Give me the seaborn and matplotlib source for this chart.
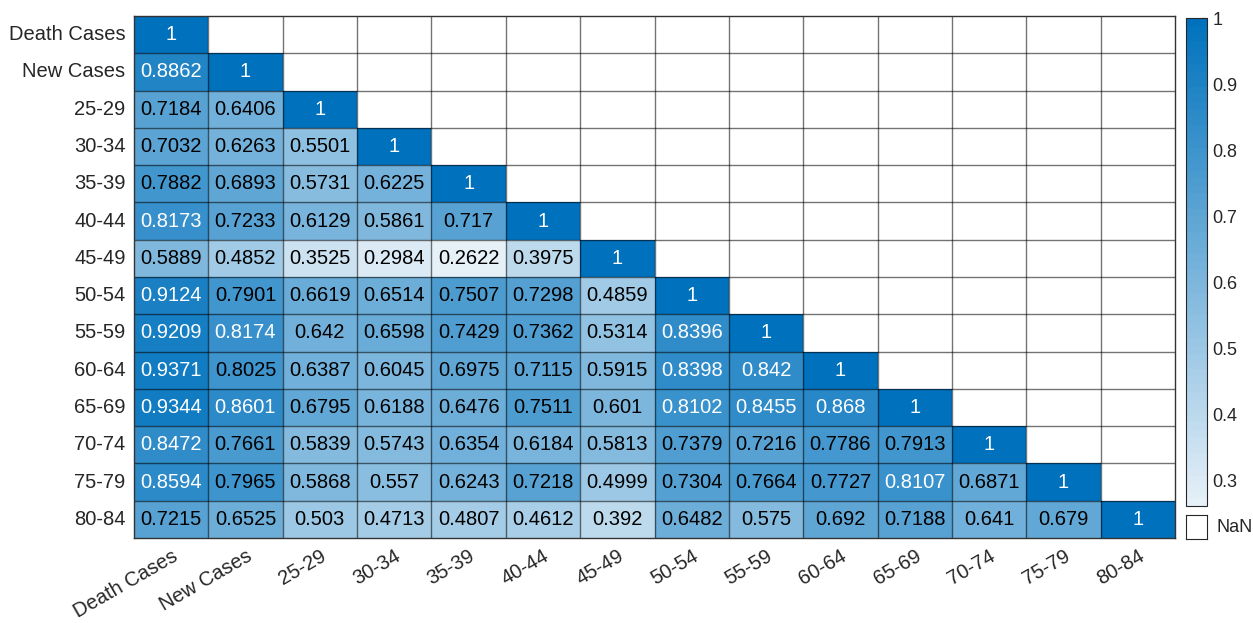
import numpy as np
import pandas as pd
import matplotlib
matplotlib.use("Agg")
import matplotlib.pyplot as plt
import seaborn as sns
from matplotlib.colors import LinearSegmentedColormap

labels = ["Death Cases", "New Cases", "25-29", "30-34", "35-39", "40-44", "45-49",
          "50-54", "55-59", "60-64", "65-69", "70-74", "75-79", "80-84"]

# Lower-triangular correlation rows (row i holds columns 0..i)
r_death = [1]
r_new = [0.8862, 1]
r_25 = [0.7184, 0.6406, 1]
r_30 = [0.7032, 0.6263, 0.5501, 1]
r_35 = [0.7882, 0.6893, 0.5731, 0.6225, 1]
r_40 = [0.8173, 0.7233, 0.6129, 0.5861, 0.717, 1]
r_45 = [0.5889, 0.4852, 0.3525, 0.2984, 0.2622, 0.3975, 1]
r_50 = [0.9124, 0.7901, 0.6619, 0.6514, 0.7507, 0.7298, 0.4859, 1]
r_55 = [0.9209, 0.8174, 0.642, 0.6598, 0.7429, 0.7362, 0.5314, 0.8396, 1]
r_60 = [0.9371, 0.8025, 0.6387, 0.6045, 0.6975, 0.7115, 0.5915, 0.8398, 0.842, 1]
r_65 = [0.9344, 0.8601, 0.6795, 0.6188, 0.6476, 0.7511, 0.601, 0.8102, 0.8455, 0.868, 1]
r_70 = [0.8472, 0.7661, 0.5839, 0.5743, 0.6354, 0.6184, 0.5813, 0.7379, 0.7216, 0.7786,
        0.7913, 1]
r_75 = [0.8594, 0.7965, 0.5868, 0.557, 0.6243, 0.7218, 0.4999, 0.7304, 0.7664, 0.7727,
        0.8107, 0.6871, 1]
r_80 = [0.7215, 0.6525, 0.503, 0.4713, 0.4807, 0.4612, 0.392, 0.6482, 0.575, 0.692,
        0.7188, 0.641, 0.679, 1]

cbar_ticks = [0.3, 0.4, 0.5, 0.6, 0.7, 0.8, 0.9, 1.0]
cbar_ticklabels = ["0.3", "0.4", "0.5", "0.6", "0.7", "0.8", "0.9", "1"]

rows = [r_death, r_new, r_25, r_30, r_35, r_40, r_45, r_50, r_55, r_60, r_65, r_70,
        r_75, r_80]
n = len(labels)
mat = np.full((n, n), np.nan)
for i, r in enumerate(rows):
    mat[i, :len(r)] = r
df = pd.DataFrame(mat, index=labels, columns=labels)

sns.set_theme(style="white")
plt.rcParams["font.family"] = ["Liberation Sans", "DejaVu Sans"]

text_dark = "#262626"
grid_col = (0.0, 0.0, 0.0, 0.55)

cmap = LinearSegmentedColormap.from_list(
    "blues_mat", [(0.90, 0.94, 0.97), (0.0, 0.447, 0.741)], N=64)

fig = plt.figure(figsize=(12.53, 6.23), dpi=100)
ax = fig.add_axes([0.1069, 0.1364, 0.8309, 0.8379])
cax = fig.add_axes([0.9465, 0.1878, 0.0168, 0.7833])

vmin = np.nanmin(mat)
sns.heatmap(df, ax=ax, cmap=cmap, vmin=vmin, vmax=1.0, annot=True, fmt=".4g",
            annot_kws={"fontsize": 14.5}, cbar_ax=cax,
            cbar_kws={"ticks": cbar_ticks}, linewidths=0, square=False)

# Text colour depends on cell shade
for t in ax.texts:
    v = float(t.get_text())
    t.set_color("white" if v > 0.805 else "black")

# Cell borders across the full grid, including the empty upper triangle
ax.hlines(np.arange(1, n), 0, n, colors=[grid_col], linewidth=1.0)
ax.vlines(np.arange(1, n), 0, n, colors=[grid_col], linewidth=1.0)
for s in ax.spines.values():
    s.set_visible(True)
    s.set_color("#333333")
    s.set_linewidth(1.0)

ax.tick_params(axis="both", length=0, labelsize=14.5, colors=text_dark, pad=6)
ax.set_yticklabels(labels, rotation=0)
ax.set_xticklabels(labels, rotation=30, ha="right", rotation_mode="anchor")
ax.set_xlabel("")
ax.set_ylabel("")

# Colorbar styling
cb = ax.collections[0].colorbar
cb.set_ticks(cbar_ticks)
cb.set_ticklabels(cbar_ticklabels)
cb.outline.set_edgecolor(text_dark)
cb.outline.set_linewidth(0.8)
cax.tick_params(axis="y", direction="in", length=4, width=0.8, colors=text_dark,
                labelsize=13, pad=4, labelcolor=text_dark)

# Missing-value swatch
nax = fig.add_axes([0.9465, 0.1348, 0.0168, 0.0385])
nax.set_facecolor("white")
nax.set_xticks([])
nax.set_yticks([])
for s in nax.spines.values():
    s.set_color(text_dark)
    s.set_linewidth(0.8)
nax.text(1.45, 0.5, "NaN", transform=nax.transAxes, ha="left", va="center",
         fontsize=13, color=text_dark)

fig.savefig("out.png", dpi=100, facecolor="white")
